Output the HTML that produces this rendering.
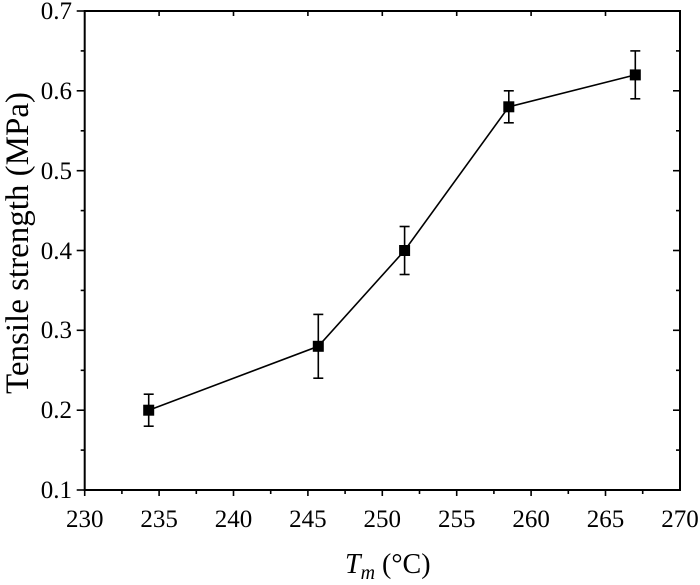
<!DOCTYPE html>
<html><head><style>body{margin:0;background:#fff}svg{display:block}</style></head><body>
<svg width="700" height="585" xmlns="http://www.w3.org/2000/svg" font-family="Liberation Serif, serif" fill="#000">
<rect x="84.7" y="11" width="595.3" height="479" stroke="#000" stroke-width="2" fill="none"/>
<g stroke="#000" stroke-width="1.6">
<line x1="84.7" y1="490" x2="84.7" y2="496"/><line x1="121.9" y1="490" x2="121.9" y2="494"/><line x1="159.1" y1="490" x2="159.1" y2="496"/><line x1="196.3" y1="490" x2="196.3" y2="494"/><line x1="233.5" y1="490" x2="233.5" y2="496"/><line x1="270.7" y1="490" x2="270.7" y2="494"/><line x1="307.9" y1="490" x2="307.9" y2="496"/><line x1="345.1" y1="490" x2="345.1" y2="494"/><line x1="382.3" y1="490" x2="382.3" y2="496"/><line x1="419.5" y1="490" x2="419.5" y2="494"/><line x1="456.7" y1="490" x2="456.7" y2="496"/><line x1="493.9" y1="490" x2="493.9" y2="494"/><line x1="531.1" y1="490" x2="531.1" y2="496"/><line x1="568.3" y1="490" x2="568.3" y2="494"/><line x1="605.5" y1="490" x2="605.5" y2="496"/><line x1="642.7" y1="490" x2="642.7" y2="494"/>
<line x1="159.1" y1="11" x2="159.1" y2="16"/><line x1="233.5" y1="11" x2="233.5" y2="16"/><line x1="307.9" y1="11" x2="307.9" y2="16"/><line x1="382.3" y1="11" x2="382.3" y2="16"/><line x1="456.7" y1="11" x2="456.7" y2="16"/><line x1="531.1" y1="11" x2="531.1" y2="16"/><line x1="605.5" y1="11" x2="605.5" y2="16"/>
<line x1="84.7" y1="410.2" x2="76.7" y2="410.2"/><line x1="84.7" y1="330.3" x2="76.7" y2="330.3"/><line x1="84.7" y1="250.5" x2="76.7" y2="250.5"/><line x1="84.7" y1="170.7" x2="76.7" y2="170.7"/><line x1="84.7" y1="90.8" x2="76.7" y2="90.8"/><line x1="84.7" y1="11" x2="76.7" y2="11"/><line x1="84.7" y1="490" x2="76.7" y2="490"/>
<line x1="84.7" y1="450.1" x2="80.7" y2="450.1"/><line x1="84.7" y1="370.3" x2="80.7" y2="370.3"/><line x1="84.7" y1="290.4" x2="80.7" y2="290.4"/><line x1="84.7" y1="210.6" x2="80.7" y2="210.6"/><line x1="84.7" y1="130.8" x2="80.7" y2="130.8"/><line x1="84.7" y1="50.9" x2="80.7" y2="50.9"/>
<line x1="680" y1="410.2" x2="673" y2="410.2"/><line x1="680" y1="330.3" x2="673" y2="330.3"/><line x1="680" y1="250.5" x2="673" y2="250.5"/><line x1="680" y1="170.7" x2="673" y2="170.7"/><line x1="680" y1="90.8" x2="673" y2="90.8"/>
<line x1="680" y1="450.1" x2="676" y2="450.1"/><line x1="680" y1="370.3" x2="676" y2="370.3"/><line x1="680" y1="290.4" x2="676" y2="290.4"/><line x1="680" y1="210.6" x2="676" y2="210.6"/><line x1="680" y1="130.8" x2="676" y2="130.8"/><line x1="680" y1="50.9" x2="676" y2="50.9"/>
</g>
<g font-size="25" text-anchor="middle">
<text x="84.7" y="527">230</text><text x="159.1" y="527">235</text><text x="233.5" y="527">240</text><text x="307.9" y="527">245</text><text x="382.3" y="527">250</text><text x="456.7" y="527">255</text><text x="531.1" y="527">260</text><text x="605.5" y="527">265</text><text x="680" y="527">270</text>
</g>
<g font-size="25" text-anchor="end">
<text x="72" y="498">0.1</text><text x="72" y="418">0.2</text><text x="72" y="338">0.3</text><text x="72" y="259">0.4</text><text x="72" y="179">0.5</text><text x="72" y="99">0.6</text><text x="72" y="19">0.7</text>
</g>
<polyline fill="none" stroke="#000" stroke-width="1.6" points="148.7,410.2 318.3,346.3 404.6,250.5 508.8,106.8 635.3,74.9"/>
<g stroke="#000" stroke-width="1.6">
<line x1="148.7" y1="426.2" x2="148.7" y2="394.2"/><line x1="143.7" x2="153.7" y1="426.2" y2="426.2"/><line x1="143.7" x2="153.7" y1="394.2" y2="394.2"/>
<line x1="318.3" y1="378.2" x2="318.3" y2="314.4"/><line x1="313.3" x2="323.3" y1="378.2" y2="378.2"/><line x1="313.3" x2="323.3" y1="314.4" y2="314.4"/>
<line x1="404.6" y1="274.5" x2="404.6" y2="226.5"/><line x1="399.6" x2="409.6" y1="274.5" y2="274.5"/><line x1="399.6" x2="409.6" y1="226.5" y2="226.5"/>
<line x1="508.8" y1="122.8" x2="508.8" y2="90.8"/><line x1="503.8" x2="513.8" y1="122.8" y2="122.8"/><line x1="503.8" x2="513.8" y1="90.8" y2="90.8"/>
<line x1="635.3" y1="98.8" x2="635.3" y2="50.9"/><line x1="630.3" x2="640.3" y1="98.8" y2="98.8"/><line x1="630.3" x2="640.3" y1="50.9" y2="50.9"/>
</g>
<rect x="143.2" y="404.7" width="11" height="11"/><rect x="312.8" y="340.8" width="11" height="11"/><rect x="399.1" y="245" width="11" height="11"/><rect x="503.3" y="101.3" width="11" height="11"/><rect x="629.8" y="69.4" width="11" height="11"/>
<text x="-243" y="28" font-size="33" text-anchor="middle" transform="rotate(-90)">Tensile strength (MPa)</text>
<text x="345" y="573" font-size="28"><tspan font-style="italic">T</tspan><tspan font-style="italic" font-size="20" dy="6">m</tspan><tspan dy="-6"> (°C)</tspan></text>
</svg></body></html>
